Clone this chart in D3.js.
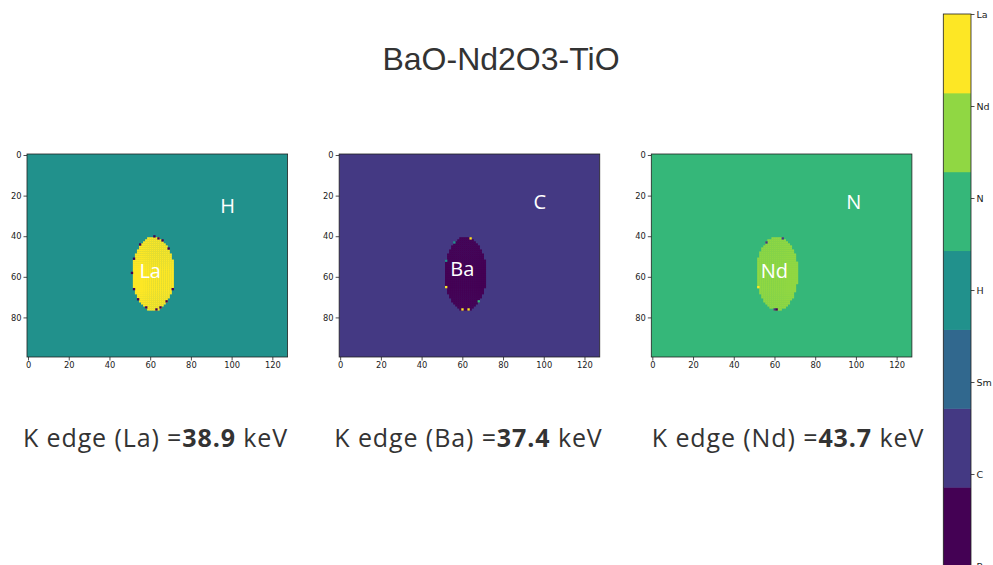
<!DOCTYPE html>
<html><head><meta charset="utf-8">
<script src="https://cdn.jsdelivr.net/npm/d3@7"></script>
<style>body{margin:0;background:#fff}svg{display:block}</style>
</head><body>
<svg id="chart" width="993" height="565"></svg>
<script>
// ---- data ----
const categories = ["Ba", "C", "Sm", "H", "N", "Nd", "La"];   // colorbar order bottom -> top (values 0..6)
const categoryColors = ["#440154", "#443983", "#31688e", "#21918c", "#35b779", "#90d743", "#fde725"];
const title = "BaO-Nd2O3-TiO";
const panelBackground = ["H", "C", "N"];
const panelInclusion = ["La", "Ba", "Nd"];
const inclusionCenterX = [61.5, 61.5, 61.3];
const inclusionCenterY = [58.5, 58.5, 58.3];
const inclusionRadiusX = [10.2, 10.2, 10.2];
const inclusionRadiusY = [18.3, 18.3, 18.0];
const bgLabelX = [98, 98, 99];
const bgLabelY = [25, 23, 23];
const incLabelX = [60, 60, 60];
const incLabelY = [57, 56, 57];
const edgeElements = ["La", "Ba", "Nd"];
const edgeEnergies = ["38.9", "37.4", "43.7"];
const gridCols = 128, gridRows = 100;
const xTicks = [0, 20, 40, 60, 80, 100, 120];
const yTicks = [0, 20, 40, 60, 80];
// boundary speckle pixels: [panel, col, row, category]
const speckles = [
  [0,62,40,"Ba"],[0,64,41,"Ba"],[0,66,42,"Ba"],[0,69,46,"Ba"],[0,55,44,"Ba"],[0,52,51,"Ba"],
  [0,51,58,"Ba"],[0,52,66,"Ba"],[0,54,71,"Ba"],[0,58,75,"Ba"],[0,63,76,"Ba"],[0,65,75,"Ba"],
  [0,68,72,"Ba"],[0,71,66,"Ba"],
  [1,64,41,"La"],[1,56,43,"H"],[1,52,65,"La"],[1,68,72,"N"],[1,60,76,"La"],[1,63,76,"La"],[1,52,52,"H"],
  [2,56,43,"C"],[2,64,41,"C"],[2,52,65,"La"],[2,60,76,"C"],[2,61,76,"Ba"]
];

// ---- drawing ----
const svg = d3.select("#chart");
const color = d3.scaleOrdinal().domain(categories).range(categoryColors);
const panelLeft = [27, 339.15, 651.3];
const edgeTextCenter = [155.5, 468.5, 788];
const panelTop = 154, panelW = 260.6, panelH = 203;
const textFont = "'Open Sans', 'Noto Sans', sans-serif";

svg.append("text").attr("x", 501).attr("y", 70).attr("text-anchor", "middle")
  .attr("font-family", "'Liberation Sans', Arial, sans-serif").attr("font-size", 32)
  .attr("fill", "#333").text(title);

panelLeft.forEach((left, p) => {
  const x = d3.scaleLinear().domain([-0.5, gridCols - 0.5]).range([left, left + panelW]);
  const y = d3.scaleLinear().domain([-0.5, gridRows - 0.5]).range([panelTop, panelTop + panelH]);
  const g = svg.append("g");
  const cw = x(1) - x(0), ch = y(1) - y(0);
  g.append("rect").attr("x", x(-0.5)).attr("y", y(-0.5)).attr("width", panelW).attr("height", panelH)
    .attr("fill", color(panelBackground[p]));
  const cells = [];
  for (let r = 0; r < gridRows; r++) for (let c = 0; c < gridCols; c++) {
    const dx = (c - inclusionCenterX[p]) / inclusionRadiusX[p];
    const dy = (r - inclusionCenterY[p]) / inclusionRadiusY[p];
    if (dx * dx + dy * dy <= 1) cells.push([c, r, panelInclusion[p]]);
  }
  speckles.filter(s => s[0] === p).forEach(s => cells.push([s[1], s[2], s[3]]));
  g.selectAll("rect.cell").data(cells).join("rect").attr("class", "cell")
    .attr("x", d => x(d[0] - 0.5)).attr("y", d => y(d[1] - 0.5))
    .attr("width", cw + 0.3).attr("height", ch + 0.3)
    .attr("fill", d => color(d[2]));
  g.append("rect").attr("x", x(-0.5)).attr("y", y(-0.5)).attr("width", panelW).attr("height", panelH)
    .attr("fill", "none").attr("stroke", "#222").attr("stroke-width", 0.8);
  const xa = svg.append("g").attr("transform", `translate(0,${y(gridRows - 0.5)})`)
    .call(d3.axisBottom(x).tickValues(xTicks).tickSize(3.5).tickPadding(2).tickSizeOuter(0));
  const ya = svg.append("g").attr("transform", `translate(${x(-0.5)},0)`)
    .call(d3.axisLeft(y).tickValues(yTicks).tickSize(3.5).tickPadding(2).tickSizeOuter(0));
  [xa, ya].forEach(a => {
    a.select(".domain").remove();
    a.selectAll("text").attr("font-family", "'DejaVu Sans', sans-serif").attr("font-size", 8.3).attr("fill", "#222");
    a.selectAll("line").attr("stroke", "#222").attr("stroke-width", 0.8);
  });
  g.append("text").attr("x", x(bgLabelX[p])).attr("y", y(bgLabelY[p])).attr("dy", "0.36em")
    .attr("text-anchor", "middle").attr("font-family", textFont).attr("font-size", 20)
    .attr("fill", "#fff").text(panelBackground[p]);
  g.append("text").attr("x", x(incLabelX[p])).attr("y", y(incLabelY[p])).attr("dy", "0.36em")
    .attr("text-anchor", "middle").attr("font-family", textFont).attr("font-size", 20)
    .attr("fill", "#fff").text(panelInclusion[p]);
  const t = svg.append("text").attr("x", edgeTextCenter[p]).attr("y", 447).attr("text-anchor", "middle")
    .attr("font-family", textFont).attr("font-size", 25).attr("letter-spacing", 0.9).attr("fill", "#333");
  t.append("tspan").text(`K edge (${edgeElements[p]}) =`);
  t.append("tspan").attr("font-weight", "bold").text(edgeEnergies[p]);
  t.append("tspan").text(" keV");
});

// colorbar
const cbX = 943.3, cbW = 27.7, cbTop = 14, cbBottom = 566;
const cbBand = d3.scaleBand().domain(categories.slice().reverse()).range([cbTop, cbBottom]).paddingInner(0);
svg.append("g").selectAll("rect").data(categories).join("rect")
  .attr("x", cbX).attr("y", d => cbBand(d)).attr("width", cbW).attr("height", cbBand.bandwidth() + 0.5)
  .attr("fill", d => color(d));
svg.append("rect").attr("x", cbX).attr("y", cbTop).attr("width", cbW).attr("height", cbBottom - cbTop)
  .attr("fill", "none").attr("stroke", "#222").attr("stroke-width", 0.8);
const cbScale = d3.scaleLinear().domain([0, categories.length - 1]).range([cbBottom, cbTop]);
const cbAxis = svg.append("g").attr("transform", `translate(${cbX + cbW},0)`)
  .call(d3.axisRight(cbScale).tickValues(d3.range(categories.length)).tickFormat(i => categories[i])
    .tickSize(3.5).tickPadding(2).tickSizeOuter(0));
cbAxis.select(".domain").remove();
cbAxis.selectAll("text").attr("font-family", "'DejaVu Sans', sans-serif").attr("font-size", 9.5).attr("fill", "#222");
cbAxis.selectAll("line").attr("stroke", "#222").attr("stroke-width", 0.8);
</script>
</body></html>
